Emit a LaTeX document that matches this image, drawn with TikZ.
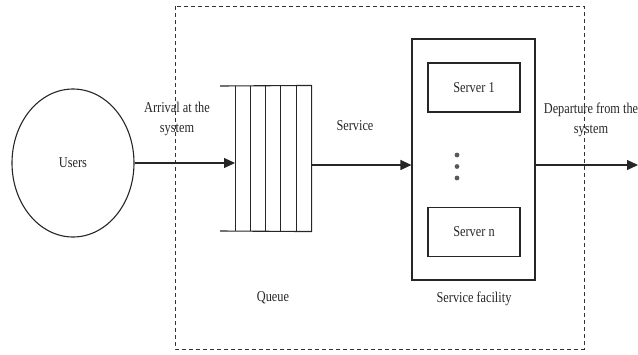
\documentclass[tikz,border=0pt]{standalone}
\usepackage{fontspec}
\setmainfont[FakeStretch=0.82]{Liberation Serif}
\usetikzlibrary{arrows.meta,shapes.geometric}
\begin{document}
\begin{tikzpicture}[x=1pt,y=-1pt,
  line width=1.1pt,
  ink/.style={draw=black!85},
  lbl/.style={font=\fontsize{15}{20}\selectfont, text=black!85, inner sep=0pt, align=center},
  flow/.style={ink, -{Triangle[length=11pt,width=10pt]}},
  boundary/.style={draw=black!80, line width=1pt, dash pattern=on 4pt off 3pt},
  serverbox/.style={ink, minimum width=92pt, minimum height=49pt, inner sep=0pt}]
\useasboundingbox (0,0) rectangle (638,354);

% system boundary
\draw[boundary] (175,6) rectangle (584,349);

% users
\node[ink, ellipse, minimum width=122pt, minimum height=148pt, lbl] (users) at (73,163) {Users};

% queue: open-ended buffer with slots
\node[minimum width=76pt, minimum height=145pt, inner sep=0pt] (queue) at (273,158.5) {};
\draw[ink] (220,86) -- (queue.north east) -- (queue.south east) -- (220,231);
\foreach \x in {235,250,265,280,296}
  \draw[ink, line width=0.9pt] (\x,86) -- (\x,231);
\coordinate (qin) at (235,163);

% service facility with servers
\node[ink, minimum width=123pt, minimum height=241pt, inner sep=0pt] (facility) at (473.5,159.5) {};
\node[serverbox, lbl] (s1) at (474,87.5) {Server 1};
\node[serverbox, lbl] (sn) at (474,232) {Server n};
\foreach \y in {155,166.5,178}
  \fill[black!65] (457,\y) circle (2.4pt);

% flows
\draw[flow] (users.east) -- (qin);
\draw[flow] (queue.east |- 0,165) -- (facility.west |- 0,165);
\coordinate (exit) at (638,165);
\draw[flow] (facility.east |- 0,165) -- (exit);

% labels
\node[lbl] (arr) at (177,119) {Arrival at the\\system};
\node[lbl] (svc) at (355,126) {Service};
\node[lbl] (dep) at (591,120) {Departure from the\\system};
\node[lbl] (ql) at (273,298) {Queue};
\node[lbl] (fl) at (474,299) {Service facility};
\end{tikzpicture}
\end{document}
